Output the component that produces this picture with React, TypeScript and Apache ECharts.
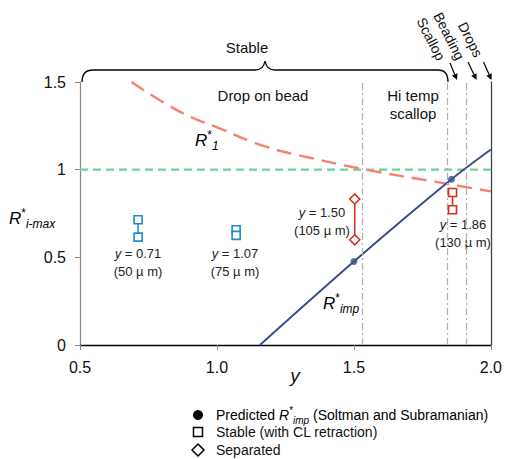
import React, { useEffect, useRef } from "react";
import * as echarts from "echarts";

// ---- data ----
const xTickValues = [0.5, 1.0, 1.5, 2.0];
const yTickValues = [0, 0.5, 1, 1.5];
const r1Curve: [number, number][] = [
  [0.688, 1.5], [0.864, 1.331], [1.009, 1.236], [1.179, 1.131],
  [1.348, 1.065], [1.53, 1.004], [1.83, 0.922], [2.0, 0.876],
];
const unityLine: [number, number][] = [[0.5, 1], [2.0, 1]];
const rImpCurve: [number, number][] = [[1.157, 0], [1.5, 0.476], [1.856, 0.945], [2.0, 1.115]];
const predicted: [number, number][] = [[1.5, 0.476], [1.856, 0.945]];
const stable071: [number, number][] = [[0.712, 0.714], [0.712, 0.615]];
const stable107: [number, number][] = [[1.07, 0.657], [1.07, 0.625]];
const separated150: [number, number][] = [[1.503, 0.833], [1.503, 0.6]];
const stable186: [number, number][] = [[1.86, 0.87], [1.86, 0.771]];
const regimeBounds = [1.528, 1.843, 1.906];
const pointLabels = ["0.71", "1.07", "1.50", "1.86"];
const widthLabels = ["(50 \u00b5 m)", "(75 \u00b5 m)", "(105 \u00b5 m)", "(130 \u00b5 m)"];

const FONT = "'Liberation Sans', Arial, sans-serif";
const NAVY = "#3b4e8c";
const SALMON = "#f4826f";
const GREEN = "#6cd49a";
const BLUE = "#1e88d6";
const RED = "#d42e1c";

const bracePath =
  "M82,82 C82,74 85,70 93,70 L255,70 C261,70 264,67 265,61 C266,67 269,70 275,70 L438,70 C445,70 448,74 448,82";
echarts.graphic.registerShape("brace", echarts.graphic.extendPath(bracePath, {}) as any);

function arrow(x1: number, y1: number, x2: number, y2: number) {
  const dx = x2 - x1, dy = y2 - y1;
  const len = Math.sqrt(dx * dx + dy * dy);
  const ux = dx / len, uy = dy / len;
  const hl = 6, hw = 3;
  const bx = x2 - ux * hl, by = y2 - uy * hl;
  return [
    { type: "line", shape: { x1, y1, x2: bx, y2: by }, style: { stroke: "#000", lineWidth: 1.2 } },
    {
      type: "polygon",
      shape: { points: [[x2, y2], [bx - uy * hw, by + ux * hw], [bx + uy * hw, by - ux * hw]] },
      style: { fill: "#000" },
    },
  ];
}

function pairSeries(data: [number, number][], color: string, symbol: string, size: number) {
  return {
    type: "line",
    data,
    symbol,
    symbolSize: size,
    showAllSymbol: true,
    lineStyle: { color, width: 1.5 },
    itemStyle: { color: "#fff", borderColor: color, borderWidth: 1.6 },
    z: 5,
  };
}

const supRich = (color: string, size: number) => {
  const small = Math.round(size * 0.68);
  return {
    r: { fontFamily: FONT, fontSize: size, fontStyle: "italic", color, lineHeight: size + 6 },
    s: { fontFamily: FONT, fontSize: small, color, lineHeight: small + 2, verticalAlign: "top" },
    b: { fontFamily: FONT, fontSize: small, fontStyle: "italic", color, lineHeight: small + 2, verticalAlign: "bottom" },
    t: { fontFamily: FONT, fontSize: size, color, lineHeight: size + 6 },
  };
};

function pointLabel(cx: number, cy: number, value: string, width: string) {
  return [
    {
      type: "text", x: cx, y: cy,
      style: {
        text: "{i|y}{n| = " + value + "}",
        rich: {
          i: { fontFamily: FONT, fontSize: 13, fontStyle: "italic", fill: "#222" },
          n: { fontFamily: FONT, fontSize: 13, fill: "#222" },
        },
        align: "center", verticalAlign: "middle",
      },
    },
    {
      type: "text", x: cx, y: cy + 18,
      style: { text: width, fontFamily: FONT, fontSize: 13, fill: "#222", align: "center", verticalAlign: "middle" },
    },
  ];
}

export default function App() {
  const ref = useRef<HTMLDivElement>(null);
  useEffect(() => {
    if (!ref.current) return;
    const chart = echarts.init(ref.current, null, { renderer: "svg" });
    const graphics: any[] = [
      { type: "brace", x: 0, y: 0, shape: {}, style: { stroke: "#000", fill: null, lineWidth: 1.3 } },
      { type: "text", x: 247, y: 47, style: { text: "Stable", fontFamily: FONT, fontSize: 15, fill: "#111", align: "center", verticalAlign: "middle" } },
      { type: "text", x: 431, y: 39, rotation: -1.1, style: { text: "Scallop", fontFamily: FONT, fontSize: 14, fill: "#111", align: "center", verticalAlign: "middle" } },
      { type: "text", x: 449, y: 36, rotation: -1.1, style: { text: "Beading", fontFamily: FONT, fontSize: 14, fill: "#111", align: "center", verticalAlign: "middle" } },
      { type: "text", x: 470.5, y: 39.5, rotation: -1.1, style: { text: "Drops", fontFamily: FONT, fontSize: 14, fill: "#111", align: "center", verticalAlign: "middle" } },
      ...arrow(450, 63, 457, 80),
      ...arrow(468, 62, 476.5, 80),
      ...arrow(483.5, 62, 491.5, 80),
      { type: "text", x: 263, y: 95, style: { text: "Drop on bead", fontFamily: FONT, fontSize: 15, fill: "#111", align: "center", verticalAlign: "middle" } },
      { type: "text", x: 413, y: 95, style: { text: "Hi temp", fontFamily: FONT, fontSize: 15, fill: "#111", align: "center", verticalAlign: "middle" } },
      { type: "text", x: 413, y: 113, style: { text: "scallop", fontFamily: FONT, fontSize: 15, fill: "#111", align: "center", verticalAlign: "middle" } },
      // y-axis name
      { type: "text", x: 9, y: 218, style: { text: "{r|R}{s|*}{b|i-max}", rich: supRich("#111", 17), align: "left", verticalAlign: "middle" } },
      // x-axis name
      { type: "text", x: 295, y: 375, style: { text: "y", fontFamily: FONT, fontSize: 19, fontStyle: "italic", fill: "#111", align: "center", verticalAlign: "middle" } },
      // curve labels
      { type: "text", x: 195, y: 140, style: { text: "{r|R}{s|*}{b|1}", rich: supRich(SALMON, 17), align: "left", verticalAlign: "middle" } },
      { type: "text", x: 323, y: 303, style: { text: "{r|R}{s|*}{b|imp}", rich: supRich(NAVY, 17), align: "left", verticalAlign: "middle" } },
      ...pointLabel(138, 253, pointLabels[0], widthLabels[0]),
      ...pointLabel(235, 253, pointLabels[1], widthLabels[1]),
      ...pointLabel(322, 212, pointLabels[2], widthLabels[2]),
      ...pointLabel(463, 224, pointLabels[3], widthLabels[3]),
      // legend
      { type: "circle", shape: { cx: 198, cy: 415, r: 5 }, style: { fill: "#000" } },
      { type: "text", x: 216, y: 415, style: { text: "{t|Predicted }{r|R}{s|*}{b|imp}{t| (Soltman and Subramanian)}", rich: supRich("#111", 14), align: "left", verticalAlign: "middle" } },
      { type: "rect", shape: { x: 193.5, y: 427.5, width: 9, height: 9 }, style: { fill: "#fff", stroke: "#000", lineWidth: 1.5 } },
      { type: "text", x: 216, y: 432, style: { text: "Stable (with CL retraction)", fontFamily: FONT, fontSize: 14, fill: "#111", align: "left", verticalAlign: "middle" } },
      { type: "polygon", shape: { points: [[198, 444], [204, 450], [198, 456], [192, 450]] }, style: { fill: "#fff", stroke: "#000", lineWidth: 1.5 } },
      { type: "text", x: 216, y: 450, style: { text: "Separated", fontFamily: FONT, fontSize: 14, fill: "#111", align: "left", verticalAlign: "middle" } },
    ];

    chart.setOption({
      animation: false,
      backgroundColor: "#fff",
      grid: { left: 80, top: 82, width: 412, height: 263 },
      xAxis: [
        {
          type: "value", min: 0.5, max: 2.0, interval: 0.5,
          axisLine: { lineStyle: { color: "#888", width: 1.2 } },
          axisTick: { show: true, length: 5, lineStyle: { color: "#888" } },
          axisLabel: { fontFamily: FONT, fontSize: 16, color: "#111", margin: 14, formatter: (v: number) => v.toFixed(1) },
          splitLine: { show: false },
        },
        {
          type: "value", position: "top", min: 0.5, max: 2.0,
          axisLine: { show: true, lineStyle: { color: "#000", width: 1.3 } },
          axisTick: { show: false }, axisLabel: { show: false }, splitLine: { show: false },
        },
      ],
      yAxis: [
        {
          type: "value", min: 0, max: 1.5, interval: 0.5,
          axisLine: { show: true, lineStyle: { color: "#888", width: 1.2 } },
          axisTick: { show: true, length: 5, lineStyle: { color: "#888" } },
          axisLabel: { fontFamily: FONT, fontSize: 16, color: "#111", margin: 14, formatter: (v: number) => String(v) },
          splitLine: { show: false },
        },
        {
          type: "value", position: "right", min: 0, max: 1.5,
          axisLine: { show: true, lineStyle: { color: "#444", width: 1.3 } },
          axisTick: { show: false }, axisLabel: { show: false }, splitLine: { show: false },
        },
      ],
      series: [
        {
          type: "line", data: [], symbol: "none",
          markLine: {
            silent: true, symbol: "none", label: { show: false },
            lineStyle: { color: "#b0b0b0", width: 1.2, type: [7, 3, 2, 3] },
            data: regimeBounds.map((v) => ({ xAxis: v })),
          },
        },
        { type: "line", data: unityLine, symbol: "none", lineStyle: { color: GREEN, width: 2.2, type: [8, 5] }, z: 2 },
        { type: "line", data: r1Curve, symbol: "none", smooth: 0.4, lineStyle: { color: SALMON, width: 2.4, type: [15, 8] }, z: 2 },
        { type: "line", data: rImpCurve, symbol: "none", smooth: 0.3, lineStyle: { color: NAVY, width: 2 }, z: 3 },
        { type: "scatter", data: predicted, symbol: "circle", symbolSize: 7, itemStyle: { color: NAVY }, z: 4 },
        pairSeries(stable071, BLUE, "rect", 8),
        pairSeries(stable107, BLUE, "rect", 8),
        pairSeries(separated150, RED, "diamond", 10),
        pairSeries(stable186, RED, "rect", 8),
      ],
      graphic: graphics,
    });
    return () => chart.dispose();
  }, []);
  return (
    <div
      ref={ref}
      style={{ position: "fixed", left: 0, top: 0, width: 505, height: 459, background: "#fff" }}
    />
  );
}
